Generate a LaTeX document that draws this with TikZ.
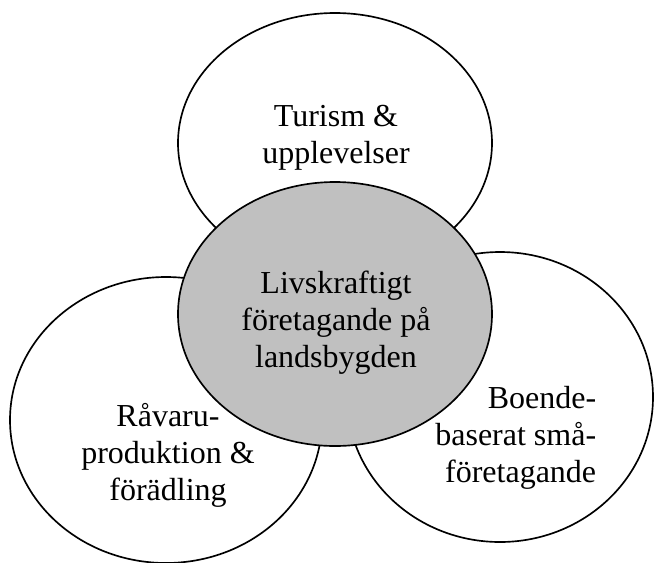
\documentclass[tikz,border=0pt]{standalone}
\usepackage{fontspec}
\setmainfont{Liberation Serif}
\usetikzlibrary{positioning}
\definecolor{coregrey}{RGB}{192,192,192}

\begin{document}
\begin{tikzpicture}[x=0.75pt,y=-0.75pt,line width=1.25pt,
		circletext/.style={font=\fontsize{24}{27.75}\selectfont, inner sep=0pt}]
		\useasboundingbox (0,0) rectangle (654,562);

		% Define the centres of the ellipses
		\coordinate (T) at (335,143);
		\coordinate (L) at (166,420);
		\coordinate (R) at (500,397);
		\coordinate (C) at (335,314);

		\foreach \point/\rx/\ry in {T/157/130, L/156/143, R/153/145}
			\draw[fill=white] (\point) ellipse ({\rx} and {\ry});

		% Draw the middle ellipse on top
		\draw[fill=coregrey] (C) ellipse (157 and 132);

		% Put the texts
		\node[circletext, align=center] (turism) at (336,138) {Turism \&\\upplevelser};
		\node[circletext, align=center] (livskraft) at (336,323) {Livskraftigt\\företagande på\\landsbygden};
		\node[circletext, align=center] (ravaru) at (168,455.5) {Råvaru-\\produktion \&\\förädling};
		\node[circletext, align=right, anchor=east] (boende) at (597,437.5) {Boende-\\baserat små-\\företagande};
	\end{tikzpicture}
\end{document}
